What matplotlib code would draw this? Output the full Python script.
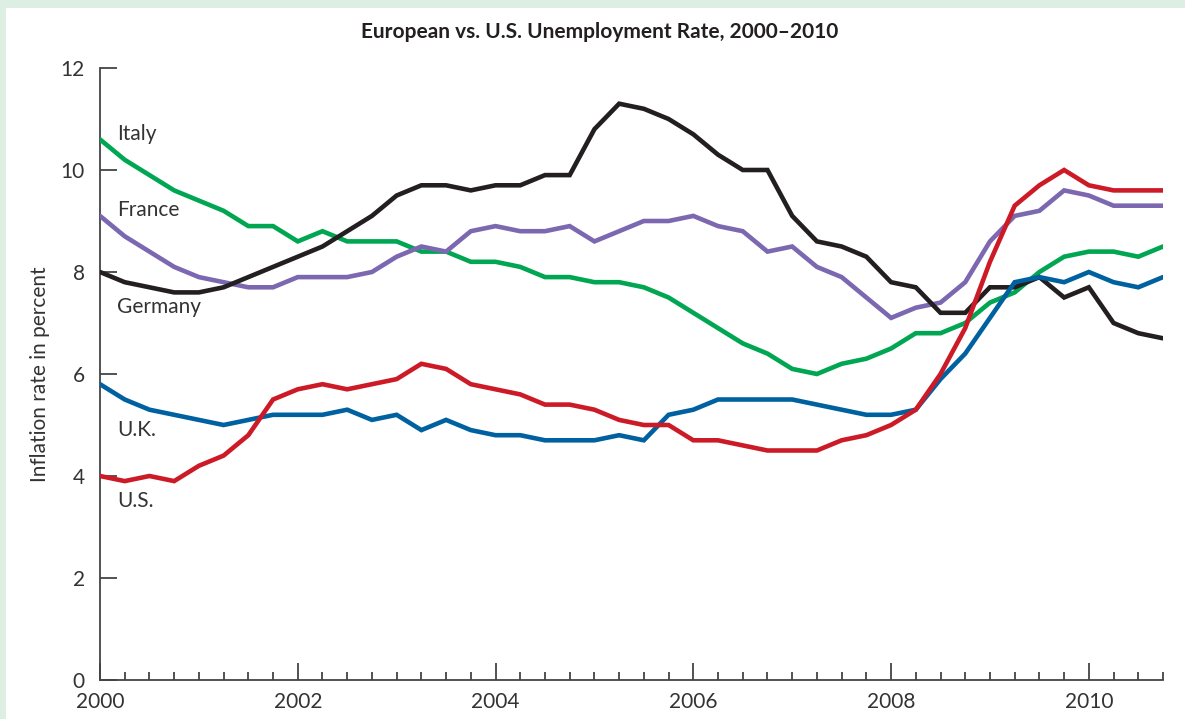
import numpy as np
import matplotlib
matplotlib.use("Agg")
import matplotlib.pyplot as plt
from matplotlib.ticker import MultipleLocator, FixedLocator

# ---- data (quarterly, 2000Q1 .. 2010Q4) ----
start_year = 2000.0
n_quarters = 44

italy = [10.6, 10.2, 9.9, 9.6, 9.4, 9.2, 8.9, 8.9, 8.6, 8.8,
         8.6, 8.6, 8.6, 8.4, 8.4, 8.2, 8.2, 8.1, 7.9, 7.9,
         7.8, 7.8, 7.7, 7.5, 7.2, 6.9, 6.6, 6.4, 6.1, 6.0,
         6.2, 6.3, 6.5, 6.8, 6.8, 7.0, 7.4, 7.6, 8.0, 8.3,
         8.4, 8.4, 8.3, 8.5]
france = [9.1, 8.7, 8.4, 8.1, 7.9, 7.8, 7.7, 7.7, 7.9, 7.9,
          7.9, 8.0, 8.3, 8.5, 8.4, 8.8, 8.9, 8.8, 8.8, 8.9,
          8.6, 8.8, 9.0, 9.0, 9.1, 8.9, 8.8, 8.4, 8.5, 8.1,
          7.9, 7.5, 7.1, 7.3, 7.4, 7.8, 8.6, 9.1, 9.2, 9.6,
          9.5, 9.3, 9.3, 9.3]
germany = [8.0, 7.8, 7.7, 7.6, 7.6, 7.7, 7.9, 8.1, 8.3, 8.5,
           8.8, 9.1, 9.5, 9.7, 9.7, 9.6, 9.7, 9.7, 9.9, 9.9,
           10.8, 11.3, 11.2, 11.0, 10.7, 10.3, 10.0, 10.0, 9.1, 8.6,
           8.5, 8.3, 7.8, 7.7, 7.2, 7.2, 7.7, 7.7, 7.9, 7.5,
           7.7, 7.0, 6.8, 6.7]
uk = [5.8, 5.5, 5.3, 5.2, 5.1, 5.0, 5.1, 5.2, 5.2, 5.2,
      5.3, 5.1, 5.2, 4.9, 5.1, 4.9, 4.8, 4.8, 4.7, 4.7,
      4.7, 4.8, 4.7, 5.2, 5.3, 5.5, 5.5, 5.5, 5.5, 5.4,
      5.3, 5.2, 5.2, 5.3, 5.9, 6.4, 7.1, 7.8, 7.9, 7.8,
      8.0, 7.8, 7.7, 7.9]
us = [4.0, 3.9, 4.0, 3.9, 4.2, 4.4, 4.8, 5.5, 5.7, 5.8,
      5.7, 5.8, 5.9, 6.2, 6.1, 5.8, 5.7, 5.6, 5.4, 5.4,
      5.3, 5.1, 5.0, 5.0, 4.7, 4.7, 4.6, 4.5, 4.5, 4.5,
      4.7, 4.8, 5.0, 5.3, 6.0, 6.9, 8.2, 9.3, 9.7, 10.0,
      9.7, 9.6, 9.6, 9.6]

series_names = ["Italy", "France", "Germany", "U.K.", "U.S."]
series_colors = ["#00a651", "#7b68b0", "#231f20", "#0061a1", "#cc1b27"]
x_major_ticks = [2000, 2002, 2004, 2006, 2008, 2010]
y_ticks = [0, 2, 4, 6, 8, 10, 12]

title = "European vs. U.S. Unemployment Rate, 2000\u20132010"
ylabel = "Inflation rate in percent"

# label positions (data coords)
label_pos = {"Italy": (2000.17, 10.59), "France": (2000.17, 9.09),
             "Germany": (2000.17, 7.19), "U.K.": (2000.17, 4.79),
             "U.S.": (2000.17, 3.39)}

# ---- plotting ----
plt.rcParams['font.family'] = ['Lato', 'DejaVu Sans']

W, H = 1185, 719
fig = plt.figure(figsize=(W / 100, H / 100), dpi=100)
fig.patch.set_facecolor("#ddeee3")
# white panel
bg = fig.add_axes([6 / W, 0, 1 - 6 / W, 1 - 8 / H], zorder=-10)
bg.set_facecolor("white")
bg.set_xticks([]); bg.set_yticks([])
for s in bg.spines.values():
    s.set_visible(False)

left_px, right_px, top_px, bot_px = 100, 1163, 68, 680
ax = fig.add_axes([left_px / W, 1 - bot_px / H, (right_px - left_px) / W, (bot_px - top_px) / H], zorder=1)
ax.set_facecolor("none")

x = start_year + np.arange(n_quarters) * 0.25
all_series = [italy, france, germany, uk, us]
for name, vals, col in zip(series_names, all_series, series_colors):
    ax.plot(x, vals, color=col, lw=3.3, solid_joinstyle="miter", solid_capstyle="round", zorder=3)
    lx, ly = label_pos[name]
    ax.text(lx, ly, name, fontsize=15, color="#333333", ha="left", va="baseline")

ax.set_xlim(2000, 2010.75)
ax.set_ylim(0, 12)

for s in ["top", "right"]:
    ax.spines[s].set_visible(False)
for s in ["left", "bottom"]:
    ax.spines[s].set_color("#444444")
    ax.spines[s].set_linewidth(1.3)

ax.xaxis.set_major_locator(FixedLocator(x_major_ticks))
ax.xaxis.set_minor_locator(MultipleLocator(0.25))
ax.set_yticks(y_ticks)
ax.set_xticklabels([str(t) for t in x_major_ticks])
ax.set_yticklabels([str(t) for t in y_ticks])

ax.tick_params(axis="x", which="major", direction="in", length=12, width=1.3,
               color="#444444", labelsize=15, labelcolor="#333333", pad=9)
ax.tick_params(axis="x", which="minor", direction="in", length=6, width=1.3, color="#444444")
ax.tick_params(axis="y", which="major", direction="in", length=12, width=1.3,
               color="#444444", labelsize=15, labelcolor="#333333", pad=11)

fig.text(40 / W, 1 - 374 / H, ylabel, rotation=90, ha="center", va="center",
         fontsize=15, color="#333333")

fig.text(600 / W, 1 - 32 / H, title, ha="center", va="center",
         fontsize=15, fontweight="bold", color="#231f20")

fig.savefig("out.png", dpi=100)
